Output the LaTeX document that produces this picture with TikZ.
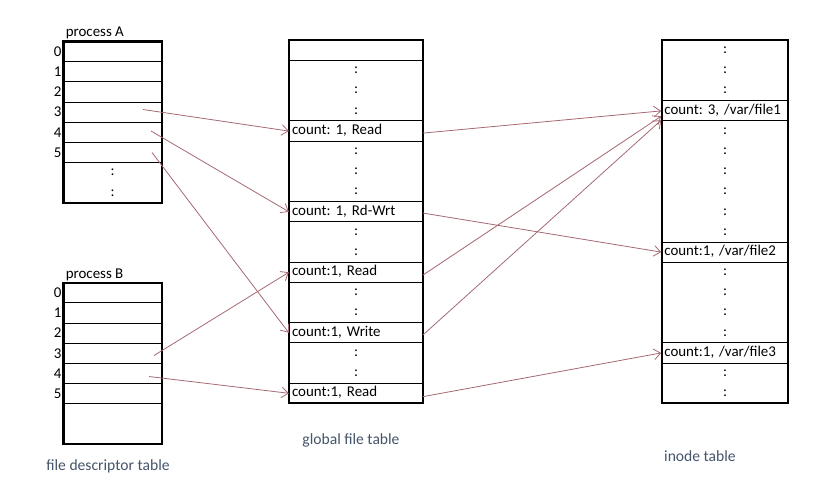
\documentclass[tikz,border=0pt]{standalone}
\usepackage{fontspec}
\setmainfont{Carlito}
\usetikzlibrary{arrows.meta}
\frenchspacing

\definecolor{linkred}{RGB}{165,105,115}
\definecolor{captionblue}{RGB}{68,84,106}

\tikzset{
  cell/.style={draw, line width=0.75pt, inner xsep=2pt, inner ysep=0pt,
    minimum height=15.13pt, text height=8pt, text depth=2.5pt,
    text width=#1, align=left},
  frame/.style={line width=1.6pt},
  link/.style={draw=linkred, line width=0.6pt,
    -{Straight Barb[length=5pt,width=8pt]}},
  caption/.style={text=captionblue, font=\fontsize{11.7}{14}\selectfont},
}

\begin{document}
\begin{tikzpicture}[x=0.75pt, y=-0.75pt, font=\fontsize{11.2}{13}\selectfont]
        \useasboundingbox (0,0) rectangle (833,480);

        % process A
        \node[anchor=base west, inner sep=0pt] (pAname) at (65.5,36) {process A};
        \foreach \i in {0,...,5} {
          \node[cell=69.65pt] (pa\i) at (112.6,{41.5+(\i+0.5)*20.17}) {};
          \node[left, inner sep=1pt] (pan\i) at (pa\i.west) {\i};
        }
        \foreach \i in {6,7}
          \node (pad\i) at (112.6,{41.5+(\i+0.5)*20.17}) {:};
        \draw[frame] (63.5,41.5) rectangle (161.7,202.9);

        % process B
        \node[anchor=base west, inner sep=0pt] (pBname) at (65.5,278) {process B};
        \foreach \i in {0,...,5} {
          \node[cell=69.65pt] (pb\i) at (112.6,{282.7+(\i+0.5)*20.17}) {};
          \node[left, inner sep=1pt] (pbn\i) at (pb\i.west) {\i};
        }
        \draw[frame] (63.5,282.7) rectangle (161.7,444);

        % global file table
        \foreach \i/\t in {0/{}, 4/{count: 1, Read}, 8/{count: 1, Rd-Wrt},
                           11/{count:1, Read}, 14/{count:1, Write}, 17/{count:1, Read}}
          \node[cell=96pt] (gf\i) at (356,{40.3+(\i+0.5)*20.17}) {\t};
        \foreach \i in {1,2,3,5,6,7,9,10,12,13,15,16}
          \node (gd\i) at (356,{40.3+(\i+0.5)*20.17}) {:};
        \draw[frame] (289.3,40.3) rectangle (422.7,403.4);

        % inode table
        \foreach \i/\t in {3/{count: 3, /var/file1}, 10/{count:1, /var/file2},
                           15/{count:1, /var/file3}}
          \node[cell=91pt] (in\i) at (725,{40.3+(\i+0.5)*20.17}) {\t};
        \foreach \i in {0,1,2,4,5,6,7,8,9,11,12,13,14,16,17}
          \node (id\i) at (725,{40.3+(\i+0.5)*20.17}) {:};
        \draw[frame] (661.7,40.3) rectangle (788.3,403.4);

        % descriptors to file table
        \coordinate (srcA3) at (143,109.5);
        \coordinate (srcA4) at (151,131);
        \coordinate (srcA5) at (152,152.5);
        \coordinate (srcB3) at (154,355.5);
        \coordinate (srcB4) at (149,376.5);
        \draw[link] (srcA3) -- (gf4.west);
        \draw[link] (srcA4) -- (gf8.west);
        \draw[link] (srcA5) -- (gf14.west);
        \draw[link] (srcB3) -- (gf11.west);
        \draw[link] (srcB4) -- (gf17.west);

        % file table to inodes
        \draw[link] ([yshift=-1.5pt]gf4.east) -- (in3.west);
        \draw[link] ([yshift=-1pt]gf8.east) -- (in10.west);
        \draw[link] ([yshift=-2pt]gf11.east) -- ([yshift=-4pt]in3.west);
        \draw[link] ([yshift=-1.5pt]gf14.east) -- ([yshift=-7pt]in3.west);
        \draw[link] ([yshift=-2.5pt]gf17.east) -- (in15.west);

        % captions
        \node[caption] (fdt) at (108,466) {file descriptor table};
        \node[caption] (gft) at (351,440) {global file table};
        \node[caption] (ift) at (700,456) {inode table};
\end{tikzpicture}
\end{document}
